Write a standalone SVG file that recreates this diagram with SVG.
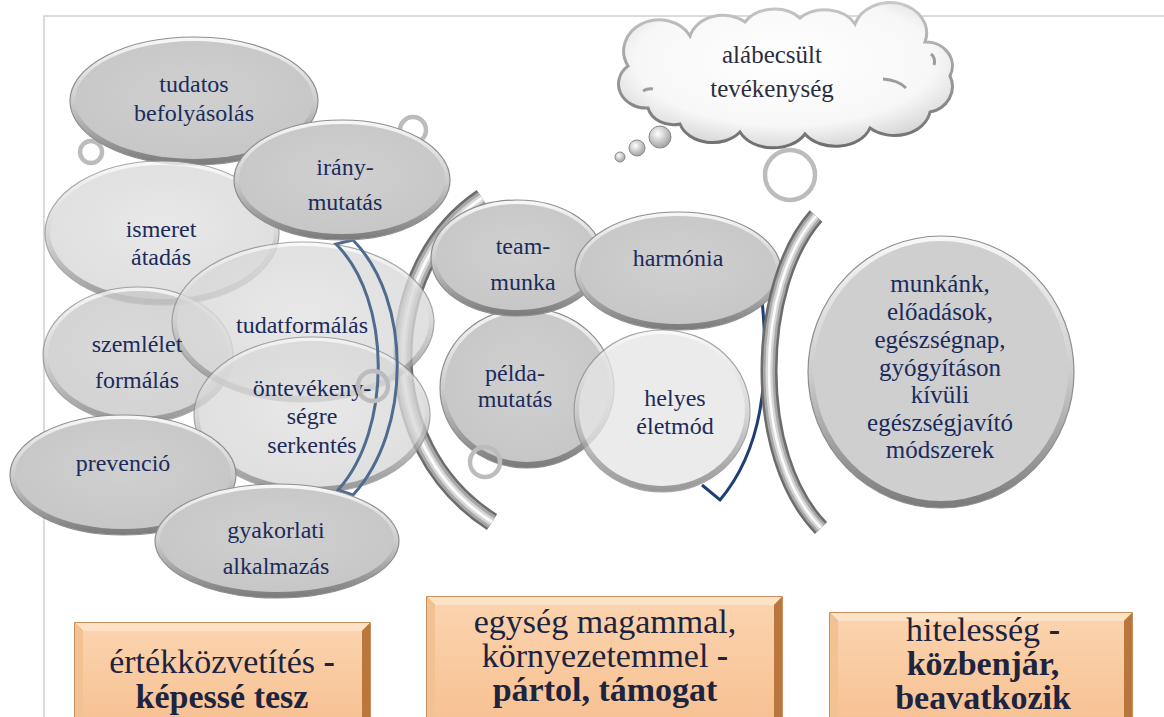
<svg xmlns="http://www.w3.org/2000/svg" width="1164" height="717" viewBox="0 0 1164 717">
  <defs>
    <linearGradient id="rim" x1="0" y1="0" x2="0" y2="1">
      <stop offset="0" stop-color="#f8f8f8"/>
      <stop offset="0.5" stop-color="#cdcdcd"/>
      <stop offset="1" stop-color="#7a7a7a"/>
    </linearGradient>
    <radialGradient id="faceDark" cx="0.5" cy="0.45" r="0.6">
      <stop offset="0" stop-color="#d0d0d0"/>
      <stop offset="1" stop-color="#c6c6c6"/>
    </radialGradient>
    <radialGradient id="faceLight" cx="0.5" cy="0.45" r="0.6">
      <stop offset="0" stop-color="#e2e2e2"/>
      <stop offset="1" stop-color="#d6d6d6"/>
    </radialGradient>
    <radialGradient id="cloudFill" cx="0.5" cy="0.4" r="0.6">
      <stop offset="0" stop-color="#ffffff"/>
      <stop offset="0.75" stop-color="#f7f7f7"/>
      <stop offset="1" stop-color="#d9d9d9"/>
    </radialGradient>
    <linearGradient id="cloudEdge" x1="0" y1="0" x2="0" y2="1">
      <stop offset="0" stop-color="#c8c8c8"/>
      <stop offset="1" stop-color="#6e6e6e"/>
    </linearGradient>
    <radialGradient id="bubble" cx="0.4" cy="0.35" r="0.7">
      <stop offset="0" stop-color="#ffffff"/>
      <stop offset="1" stop-color="#9a9a9a"/>
    </radialGradient>
    <linearGradient id="peach" x1="0" y1="0" x2="0" y2="1">
      <stop offset="0" stop-color="#fbd3ae"/>
      <stop offset="1" stop-color="#f7bf8f"/>
    </linearGradient>
    <style>
      .rimE { fill: url(#rim); stroke: #8e8e8e; stroke-width: 1.2; }
      .fd { fill: url(#faceDark); }
      .fl { fill: url(#faceLight); }
      .soft { opacity: 0.78; }
      text { font-family: 'Liberation Serif', 'DejaVu Serif', serif; }
      .lbl { font-size: 24px; fill: #1b2b5c; text-anchor: middle; }
      .lbl25 { font-size: 25px; }
      .ring { fill: none; stroke: #bcbcbc; stroke-width: 4.5; }
      .tube { fill: none; stroke-linecap: butt; }
      .boxTxt { font-size: 34px; fill: #1c2440; text-anchor: middle; }
      .b { font-weight: bold; }
      .cloudTxt { font-size: 25px; fill: #2b2d3d; text-anchor: middle; }
    </style>
  </defs>

  <rect width="1164" height="717" fill="#ffffff"/>

  <!-- page frame -->
  <path d="M44 717 V16 H1164" fill="none" stroke="#cfcfcf" stroke-width="1.5"/>

  <!-- decorative rings behind the clusters -->
  <circle class="ring" cx="91" cy="152" r="11"/>
  <circle class="ring" cx="413" cy="130" r="13"/>

  <!-- left cluster -->
  <g id="n-tudatos">
    <ellipse class="rimE" cx="194" cy="101" rx="124" ry="64"/>
    <ellipse class="fd" cx="194" cy="100" rx="119" ry="59"/>
    <text class="lbl" x="194" y="92">tudatos</text>
    <text class="lbl" x="194" y="121">befolyásolás</text>
  </g>

  <!-- grey bracket between left and middle cluster -->
  <g id="bracket-left" class="tube">
    <path d="M482 198 C378 268 372 445 492 522" stroke="#6c6c6c" stroke-width="19"/>
    <path d="M482 198 C378 268 372 445 492 522" stroke="#a8a8a8" stroke-width="14"/>
    <path d="M482 198 C378 268 372 445 492 522" stroke="#d6d6d6" stroke-width="8"/>
    <path d="M482 198 C378 268 372 445 492 522" stroke="#fbfbfb" stroke-width="3"/>
  </g>

  <g id="n-ismeret" class="soft">
    <ellipse class="rimE" cx="162" cy="233" rx="117" ry="72"/>
    <ellipse class="fl" cx="162" cy="232" rx="112" ry="67"/>
  </g>
  <g id="n-szemlelet" class="soft">
    <ellipse class="rimE" cx="138" cy="355" rx="95" ry="68"/>
    <ellipse class="fd" cx="138" cy="354" rx="90" ry="63"/>
  </g>
  <g id="n-tudatformalas" class="soft">
    <ellipse class="rimE" cx="303" cy="322" rx="131" ry="80"/>
    <ellipse class="fl" cx="303" cy="321" rx="126" ry="75"/>
  </g>
  <g id="n-ontevekenyseg" class="soft">
    <ellipse class="rimE" cx="312" cy="415" rx="118" ry="78"/>
    <ellipse class="fl" cx="312" cy="414" rx="113" ry="73"/>
  </g>

  <!-- blue outlined arcs -->
  <g id="connectors">
    <path d="M336 244 C392 300 392 430 338 490 L353 495 C412 430 412 300 353 240 Z" fill="none" stroke="#4f6b90" stroke-width="3"/>
    <path d="M762 300 C770 380 762 450 720 500 L702 485" fill="none" stroke="#1f3f73" stroke-width="3"/>
  </g>

  <text class="lbl" x="161" y="237">ismeret</text>
  <text class="lbl" x="161" y="265">átadás</text>
  <text class="lbl" x="137" y="352">szemlélet</text>
  <text class="lbl" x="137" y="388">formálás</text>
  <text class="lbl" x="302" y="333">tudatformálás</text>
  <text class="lbl" x="312" y="396">öntevékeny-</text>
  <text class="lbl" x="312" y="424">ségre</text>
  <text class="lbl" x="312" y="453">serkentés</text>

  <circle class="ring" cx="373" cy="386" r="15"/>

  <g id="n-irany">
    <ellipse class="rimE" cx="342" cy="180" rx="108" ry="60"/>
    <ellipse class="fd" cx="342" cy="179" rx="103" ry="55"/>
    <text class="lbl" x="345" y="175">irány-</text>
    <text class="lbl" x="345" y="210">mutatás</text>
  </g>
  <g id="n-prevencio">
    <ellipse class="rimE" cx="123" cy="475" rx="113" ry="60"/>
    <ellipse class="fd" cx="123" cy="474" rx="108" ry="55"/>
    <text class="lbl" x="123" y="471">prevenció</text>
  </g>
  <g id="n-gyakorlati">
    <ellipse class="rimE" cx="277" cy="541" rx="122" ry="57"/>
    <ellipse class="fd" cx="277" cy="540" rx="117" ry="52"/>
    <text class="lbl" x="276" y="538">gyakorlati</text>
    <text class="lbl" x="276" y="574">alkalmazás</text>
  </g>

  <!-- middle cluster -->
  <g id="n-pelda">
    <ellipse class="rimE" cx="527" cy="388" rx="87" ry="80"/>
    <ellipse class="fd" cx="527" cy="387" rx="82" ry="75"/>
    <text class="lbl" x="515" y="381">példa-</text>
    <text class="lbl" x="515" y="407">mutatás</text>
  </g>
  <circle class="ring" cx="485" cy="462" r="15"/>
  <g id="n-team">
    <ellipse class="rimE" cx="517" cy="258" rx="86" ry="58"/>
    <ellipse class="fd" cx="517" cy="257" rx="81" ry="53"/>
    <text class="lbl" x="523" y="254">team-</text>
    <text class="lbl" x="523" y="290">munka</text>
  </g>
  <g id="n-harmonia">
    <ellipse class="rimE" cx="678" cy="271" rx="103" ry="59"/>
    <ellipse class="fd" cx="678" cy="270" rx="98" ry="54"/>
    <text class="lbl" x="678" y="266">harmónia</text>
  </g>
  <g id="n-helyes">
    <g class="soft">
      <ellipse class="rimE" cx="662" cy="411" rx="88" ry="81"/>
      <ellipse cx="662" cy="410" rx="83" ry="76" fill="#e6e6e6"/>
    </g>
    <text class="lbl" x="675" y="406">helyes</text>
    <text class="lbl" x="675" y="434">életmód</text>
  </g>

  <!-- grey bracket before the right circle -->
  <g id="bracket-right" class="tube">
    <path d="M816 216 C755 285 750 455 821 528" stroke="#6c6c6c" stroke-width="17"/>
    <path d="M816 216 C755 285 750 455 821 528" stroke="#a8a8a8" stroke-width="12"/>
    <path d="M816 216 C755 285 750 455 821 528" stroke="#d6d6d6" stroke-width="7"/>
    <path d="M816 216 C755 285 750 455 821 528" stroke="#fbfbfb" stroke-width="2.5"/>
  </g>

  <g id="n-munkank">
    <ellipse class="rimE" cx="941" cy="372" rx="133" ry="136"/>
    <ellipse cx="941" cy="371" rx="127" ry="130" fill="#cfcfcf"/>
    <text class="lbl lbl25" x="940" y="292">munkánk,</text>
    <text class="lbl lbl25" x="940" y="320">előadások,</text>
    <text class="lbl lbl25" x="940" y="348">egészségnap,</text>
    <text class="lbl lbl25" x="940" y="376">gyógyításon</text>
    <text class="lbl lbl25" x="940" y="403">kívüli</text>
    <text class="lbl lbl25" x="940" y="431">egészségjavító</text>
    <text class="lbl lbl25" x="940" y="458">módszerek</text>
  </g>

  <!-- thought cloud -->
  <g id="n-cloud">
    <circle class="ring" cx="790" cy="175" r="25"/>
    <circle cx="620" cy="157" r="5" fill="url(#bubble)" stroke="#8a8a8a" stroke-width="1"/>
    <circle cx="637" cy="148" r="8" fill="url(#bubble)" stroke="#8a8a8a" stroke-width="1"/>
    <circle cx="660" cy="137" r="11" fill="url(#bubble)" stroke="#8a8a8a" stroke-width="1"/>
    <path d="M648 108 A28 24 0 0 1 628 66 A34 30 0 0 1 690 36 A34 28 0 0 1 745 22 A34 26 0 0 1 800 18 A34 26 0 0 1 855 24 A36 30 0 0 1 925 42 A26 24 0 0 1 950 76 A28 26 0 0 1 930 112 A36 28 0 0 1 870 128 A36 26 0 0 1 805 134 A36 26 0 0 1 740 132 A34 26 0 0 1 680 124 A26 22 0 0 1 648 108 Z" fill="url(#cloudFill)" stroke="url(#cloudEdge)" stroke-width="3"/>
    <path d="M931 54 Q936 58 934 65" fill="none" stroke="#9c9c9c" stroke-width="3"/>
    <path d="M883 79 Q898 80 906 88" fill="none" stroke="#9c9c9c" stroke-width="3"/>
    <path d="M643 91 Q648 88 653 89" fill="none" stroke="#9c9c9c" stroke-width="3"/>
    <text class="cloudTxt" x="772" y="63">alábecsült</text>
    <text class="cloudTxt" x="772" y="97">tevékenység</text>
  </g>

  <!-- bottom captions -->
  <g id="box-1">
    <rect x="75" y="623" width="295" height="110" fill="#d08a4c" stroke="#b86a2a" stroke-width="1.5"/>
    <polygon points="75,623 370,623 362,631 83,631" fill="#fde2c6"/>
    <polygon points="75,623 83,631 83,733 75,733" fill="#f3c293"/>
    <polygon points="370,623 362,631 362,733 370,733" fill="#b9763d"/>
    <rect x="83" y="631" width="279" height="102" fill="url(#peach)"/>
    <text class="boxTxt" x="222" y="673">értékközvetítés <tspan class="b">-</tspan></text>
    <text class="boxTxt b" x="222" y="708">képessé tesz</text>
  </g>
  <g id="box-2">
    <rect x="427" y="597" width="355" height="136" fill="#d08a4c" stroke="#b86a2a" stroke-width="1.5"/>
    <polygon points="427,597 782,597 774,605 435,605" fill="#fde2c6"/>
    <polygon points="427,597 435,605 435,733 427,733" fill="#f3c293"/>
    <polygon points="782,597 774,605 774,733 782,733" fill="#b9763d"/>
    <rect x="435" y="605" width="339" height="128" fill="url(#peach)"/>
    <text class="boxTxt" x="605" y="633">egység magammal,</text>
    <text class="boxTxt" x="605" y="667">környezetemmel <tspan class="b">-</tspan></text>
    <text class="boxTxt b" x="605" y="701">pártol, támogat</text>
  </g>
  <g id="box-3">
    <rect x="830" y="613" width="302" height="120" fill="#d08a4c" stroke="#b86a2a" stroke-width="1.5"/>
    <polygon points="830,613 1132,613 1124,621 838,621" fill="#fde2c6"/>
    <polygon points="830,613 838,621 838,733 830,733" fill="#f3c293"/>
    <polygon points="1132,613 1124,621 1124,733 1132,733" fill="#b9763d"/>
    <rect x="838" y="621" width="286" height="112" fill="url(#peach)"/>
    <text class="boxTxt" x="983" y="641">hitelesség <tspan class="b">-</tspan></text>
    <text class="boxTxt b" x="983" y="675">közbenjár,</text>
    <text class="boxTxt b" x="983" y="709">beavatkozik</text>
  </g>
</svg>
